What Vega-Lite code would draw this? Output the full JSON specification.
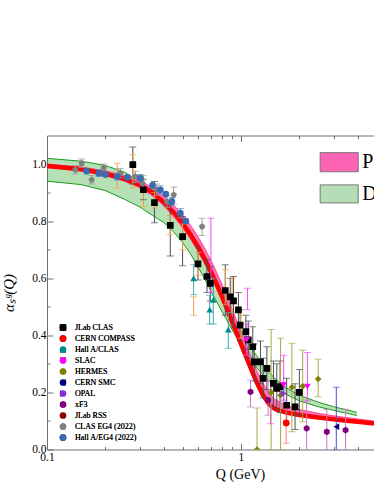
{
  "$schema": "https://vega.github.io/schema/vega-lite/v6.json",
  "autosize": {"type": "none"},
  "padding": {"left": 47, "top": 135.5, "right": 0, "bottom": 34.5},
  "width": 327,
  "height": 314,
  "background": "white",
  "config": {
    "view": {"stroke": null},
    "font": "Liberation Serif",
    "axis": {"labelFont": "Liberation Serif", "titleFont": "Liberation Serif", "labelColor": "black", "titleColor": "black", "domainColor": "#6e6e6e", "tickColor": "#6e6e6e", "grid": false, "labelFontSize": 11.5, "titleFontWeight": "normal", "domain": true, "domainWidth": 1}
  },
  "datasets": {
    "green": [
      {"q": 0.1, "lo": 0.94, "hi": 1.02}, {"q": 0.15, "lo": 0.928, "hi": 1.01}, {"q": 0.2, "lo": 0.907, "hi": 0.995},
      {"q": 0.25, "lo": 0.877, "hi": 0.972}, {"q": 0.3, "lo": 0.85, "hi": 0.94}, {"q": 0.35, "lo": 0.82, "hi": 0.905},
      {"q": 0.4, "lo": 0.795, "hi": 0.868}, {"q": 0.45, "lo": 0.762, "hi": 0.83}, {"q": 0.5, "lo": 0.725, "hi": 0.79},
      {"q": 0.55, "lo": 0.685, "hi": 0.75}, {"q": 0.6, "lo": 0.64, "hi": 0.705}, {"q": 0.65, "lo": 0.597, "hi": 0.662},
      {"q": 0.7, "lo": 0.555, "hi": 0.62}, {"q": 0.75, "lo": 0.517, "hi": 0.58}, {"q": 0.8, "lo": 0.482, "hi": 0.543},
      {"q": 0.85, "lo": 0.45, "hi": 0.508}, {"q": 0.9, "lo": 0.42, "hi": 0.476}, {"q": 1.0, "lo": 0.367, "hi": 0.418},
      {"q": 1.1, "lo": 0.324, "hi": 0.37}, {"q": 1.2, "lo": 0.289, "hi": 0.33}, {"q": 1.3, "lo": 0.26, "hi": 0.296},
      {"q": 1.4, "lo": 0.238, "hi": 0.27}, {"q": 1.5, "lo": 0.22, "hi": 0.248}, {"q": 1.7, "lo": 0.194, "hi": 0.217},
      {"q": 2.0, "lo": 0.17, "hi": 0.19}, {"q": 2.5, "lo": 0.15, "hi": 0.166}, {"q": 3.0, "lo": 0.137, "hi": 0.15},
      {"q": 3.5, "lo": 0.127, "hi": 0.139}, {"q": 3.96, "lo": 0.119, "hi": 0.13}
    ],
    "red": [
      {"q": 0.1, "r": 0.993, "lo": 0.986, "hi": 1.0}, {"q": 0.15, "r": 0.982, "lo": 0.974, "hi": 0.99},
      {"q": 0.2, "r": 0.966, "lo": 0.957, "hi": 0.976}, {"q": 0.25, "r": 0.948, "lo": 0.938, "hi": 0.96},
      {"q": 0.3, "r": 0.927, "lo": 0.915, "hi": 0.942}, {"q": 0.35, "r": 0.9, "lo": 0.886, "hi": 0.918},
      {"q": 0.4, "r": 0.866, "lo": 0.85, "hi": 0.888}, {"q": 0.45, "r": 0.83, "lo": 0.812, "hi": 0.856},
      {"q": 0.5, "r": 0.792, "lo": 0.773, "hi": 0.822}, {"q": 0.55, "r": 0.752, "lo": 0.732, "hi": 0.785},
      {"q": 0.6, "r": 0.71, "lo": 0.69, "hi": 0.746}, {"q": 0.65, "r": 0.667, "lo": 0.647, "hi": 0.705},
      {"q": 0.7, "r": 0.623, "lo": 0.603, "hi": 0.663}, {"q": 0.75, "r": 0.578, "lo": 0.558, "hi": 0.62},
      {"q": 0.8, "r": 0.534, "lo": 0.514, "hi": 0.577}, {"q": 0.85, "r": 0.49, "lo": 0.47, "hi": 0.534},
      {"q": 0.9, "r": 0.448, "lo": 0.429, "hi": 0.492}, {"q": 0.95, "r": 0.408, "lo": 0.39, "hi": 0.452},
      {"q": 1.0, "r": 0.37, "lo": 0.352, "hi": 0.413}, {"q": 1.1, "r": 0.3, "lo": 0.284, "hi": 0.342},
      {"q": 1.2, "r": 0.238, "lo": 0.224, "hi": 0.28}, {"q": 1.3, "r": 0.19, "lo": 0.178, "hi": 0.232},
      {"q": 1.4, "r": 0.158, "lo": 0.149, "hi": 0.196}, {"q": 1.5, "r": 0.142, "lo": 0.134, "hi": 0.175},
      {"q": 1.7, "r": 0.13, "lo": 0.123, "hi": 0.155}, {"q": 2.0, "r": 0.121, "lo": 0.115, "hi": 0.14},
      {"q": 2.5, "r": 0.112, "lo": 0.107, "hi": 0.127}, {"q": 3.0, "r": 0.106, "lo": 0.101, "hi": 0.118},
      {"q": 3.5, "r": 0.101, "lo": 0.097, "hi": 0.112}, {"q": 4.0, "r": 0.097, "lo": 0.093, "hi": 0.107},
      {"q": 4.85, "r": 0.091, "lo": 0.088, "hi": 0.1}
    ],
    "err": [
      {"g": "k", "q": 0.277, "lo": 0.93, "hi": 1.06}, {"g": "k", "q": 0.314, "lo": 0.875, "hi": 0.945},
      {"g": "k", "q": 0.358, "lo": 0.794, "hi": 0.939}, {"g": "k", "q": 0.432, "lo": 0.678, "hi": 0.857},
      {"g": "k", "q": 0.5, "lo": 0.644, "hi": 0.816}, {"g": "k", "q": 0.6, "lo": 0.594, "hi": 0.711},
      {"g": "k", "q": 0.668, "lo": 0.55, "hi": 0.665}, {"g": "k", "q": 0.695, "lo": 0.52, "hi": 0.64},
      {"g": "k", "q": 0.83, "lo": 0.47, "hi": 0.647}, {"g": "k", "q": 0.88, "lo": 0.48, "hi": 0.6},
      {"g": "k", "q": 0.915, "lo": 0.43, "hi": 0.606}, {"g": "k", "q": 0.97, "lo": 0.43, "hi": 0.55},
      {"g": "k", "q": 0.99, "lo": 0.38, "hi": 0.49}, {"g": "k", "q": 1.06, "lo": 0.35, "hi": 0.47},
      {"g": "k", "q": 1.09, "lo": 0.32, "hi": 0.45}, {"g": "k", "q": 1.15, "lo": 0.29, "hi": 0.43},
      {"g": "k", "q": 1.17, "lo": 0.24, "hi": 0.37}, {"g": "k", "q": 1.26, "lo": 0.23, "hi": 0.38},
      {"g": "k", "q": 1.3, "lo": 0.18, "hi": 0.32}, {"g": "k", "q": 1.36, "lo": 0.21, "hi": 0.36},
      {"g": "k", "q": 1.47, "lo": 0.15, "hi": 0.31}, {"g": "k", "q": 1.53, "lo": 0.14, "hi": 0.3},
      {"g": "k", "q": 1.59, "lo": 0.13, "hi": 0.31}, {"g": "k", "q": 1.72, "lo": 0.09, "hi": 0.25},
      {"g": "k", "q": 1.9, "lo": 0.07, "hi": 0.23}, {"g": "k", "q": 2.0, "lo": 0.12, "hi": 0.28},
      {"g": "o", "q": 0.23, "lo": 0.916, "hi": 1.003}, {"g": "o", "q": 0.277, "lo": 0.916, "hi": 1.033},
      {"g": "o", "q": 0.314, "lo": 0.851, "hi": 0.96}, {"g": "o", "q": 0.358, "lo": 0.846, "hi": 0.9},
      {"g": "o", "q": 0.432, "lo": 0.752, "hi": 0.82}, {"g": "o", "q": 0.5, "lo": 0.7, "hi": 0.79},
      {"g": "o", "q": 0.57, "lo": 0.47, "hi": 0.535}, {"g": "o", "q": 0.6, "lo": 0.61, "hi": 0.69},
      {"g": "o", "q": 0.83, "lo": 0.507, "hi": 0.63}, {"g": "o", "q": 0.9, "lo": 0.48, "hi": 0.6},
      {"g": "o", "q": 1.0, "lo": 0.39, "hi": 0.47},
      {"g": "gr", "q": 0.14, "lo": 0.965, "hi": 0.995}, {"g": "gr", "q": 0.151, "lo": 0.988, "hi": 1.018},
      {"g": "gr", "q": 0.17, "lo": 0.93, "hi": 0.96}, {"g": "gr", "q": 0.196, "lo": 0.97, "hi": 1.0},
      {"g": "gr", "q": 0.239, "lo": 0.952, "hi": 0.984}, {"g": "gr", "q": 0.285, "lo": 0.935, "hi": 0.975},
      {"g": "gr", "q": 0.31, "lo": 0.915, "hi": 0.95}, {"g": "gr", "q": 0.368, "lo": 0.89, "hi": 0.93},
      {"g": "gr", "q": 0.415, "lo": 0.848, "hi": 0.89}, {"g": "gr", "q": 0.45, "lo": 0.86, "hi": 0.92},
      {"g": "gr", "q": 0.63, "lo": 0.75, "hi": 0.81},
      {"g": "b", "q": 0.185, "lo": 0.956, "hi": 0.98}, {"g": "b", "q": 0.23, "lo": 0.944, "hi": 0.968},
      {"g": "b", "q": 0.303, "lo": 0.939, "hi": 0.963}, {"g": "b", "q": 0.384, "lo": 0.896, "hi": 0.924},
      {"g": "b", "q": 0.44, "lo": 0.855, "hi": 0.883}, {"g": "b", "q": 0.487, "lo": 0.812, "hi": 0.844},
      {"g": "t", "q": 0.57, "lo": 0.542, "hi": 0.647}, {"g": "t", "q": 0.72, "lo": 0.44, "hi": 0.6},
      {"g": "t", "q": 0.69, "lo": 0.44, "hi": 0.54}, {"g": "t", "q": 0.86, "lo": 0.355, "hi": 0.48},
      {"g": "m", "q": 0.7, "lo": 0.55, "hi": 0.81}, {"g": "m", "q": 1.08, "lo": 0.49, "hi": 0.565},
      {"g": "m", "q": 1.07, "lo": 0.33, "hi": 0.44}, {"g": "m", "q": 1.42, "lo": 0.09, "hi": 0.24},
      {"g": "m", "q": 1.66, "lo": 0.173, "hi": 0.33}, {"g": "m", "q": 2.2, "lo": 0.17, "hi": 0.34},
      {"g": "ol", "q": 1.21, "lo": 0.0, "hi": 0.145}, {"g": "ol", "q": 1.43, "lo": 0.0, "hi": 0.42},
      {"g": "ol", "q": 1.6, "lo": 0.0, "hi": 0.39}, {"g": "ol", "q": 1.83, "lo": 0.062, "hi": 0.372},
      {"g": "ol", "q": 2.08, "lo": 0.097, "hi": 0.348}, {"g": "ol", "q": 2.5, "lo": 0.185, "hi": 0.316},
      {"g": "r", "q": 1.71, "lo": 0.022, "hi": 0.162},
      {"g": "p", "q": 1.12, "lo": 0.149, "hi": 0.243}, {"g": "p", "q": 1.38, "lo": 0.12, "hi": 0.24},
      {"g": "p", "q": 2.18, "lo": 0.0, "hi": 0.173}, {"g": "p", "q": 2.77, "lo": 0.0, "hi": 0.14},
      {"g": "p", "q": 3.46, "lo": 0.0, "hi": 0.141},
      {"g": "n", "q": 3.1, "lo": 0.0, "hi": 0.218},
      {"g": "v", "q": 1.66, "lo": 0.17, "hi": 0.22}
    ],
    "pts": [
      {"s": "JLab CLAS", "q": 0.277, "a": 0.998}, {"s": "JLab CLAS", "q": 0.314, "a": 0.91},
      {"s": "JLab CLAS", "q": 0.358, "a": 0.865}, {"s": "JLab CLAS", "q": 0.432, "a": 0.785},
      {"s": "JLab CLAS", "q": 0.5, "a": 0.746}, {"s": "JLab CLAS", "q": 0.6, "a": 0.65},
      {"s": "JLab CLAS", "q": 0.668, "a": 0.606}, {"s": "JLab CLAS", "q": 0.695, "a": 0.582},
      {"s": "JLab CLAS", "q": 0.83, "a": 0.557}, {"s": "JLab CLAS", "q": 0.88, "a": 0.535},
      {"s": "JLab CLAS", "q": 0.915, "a": 0.521}, {"s": "JLab CLAS", "q": 0.97, "a": 0.489},
      {"s": "JLab CLAS", "q": 0.99, "a": 0.436}, {"s": "JLab CLAS", "q": 1.06, "a": 0.413},
      {"s": "JLab CLAS", "q": 1.09, "a": 0.384}, {"s": "JLab CLAS", "q": 1.15, "a": 0.36},
      {"s": "JLab CLAS", "q": 1.17, "a": 0.307}, {"s": "JLab CLAS", "q": 1.26, "a": 0.307},
      {"s": "JLab CLAS", "q": 1.3, "a": 0.249}, {"s": "JLab CLAS", "q": 1.36, "a": 0.284},
      {"s": "JLab CLAS", "q": 1.47, "a": 0.232}, {"s": "JLab CLAS", "q": 1.53, "a": 0.214},
      {"s": "JLab CLAS", "q": 1.59, "a": 0.22}, {"s": "JLab CLAS", "q": 1.72, "a": 0.155},
      {"s": "JLab CLAS", "q": 1.9, "a": 0.149}, {"s": "JLab CLAS", "q": 2.0, "a": 0.2},
      {"s": "CLAS EG4 (2022)", "q": 0.14, "a": 0.98}, {"s": "CLAS EG4 (2022)", "q": 0.151, "a": 1.003},
      {"s": "CLAS EG4 (2022)", "q": 0.17, "a": 0.945}, {"s": "CLAS EG4 (2022)", "q": 0.196, "a": 0.986},
      {"s": "CLAS EG4 (2022)", "q": 0.239, "a": 0.968}, {"s": "CLAS EG4 (2022)", "q": 0.285, "a": 0.956},
      {"s": "CLAS EG4 (2022)", "q": 0.31, "a": 0.933}, {"s": "CLAS EG4 (2022)", "q": 0.368, "a": 0.91},
      {"s": "CLAS EG4 (2022)", "q": 0.415, "a": 0.869}, {"s": "CLAS EG4 (2022)", "q": 0.45, "a": 0.892},
      {"s": "CLAS EG4 (2022)", "q": 0.63, "a": 0.781},
      {"s": "Hall A/EG4 (2022)", "q": 0.16, "a": 0.975}, {"s": "Hall A/EG4 (2022)", "q": 0.185, "a": 0.968},
      {"s": "Hall A/EG4 (2022)", "q": 0.2, "a": 0.963}, {"s": "Hall A/EG4 (2022)", "q": 0.23, "a": 0.956},
      {"s": "Hall A/EG4 (2022)", "q": 0.26, "a": 0.953}, {"s": "Hall A/EG4 (2022)", "q": 0.303, "a": 0.951},
      {"s": "Hall A/EG4 (2022)", "q": 0.35, "a": 0.925}, {"s": "Hall A/EG4 (2022)", "q": 0.384, "a": 0.91},
      {"s": "Hall A/EG4 (2022)", "q": 0.41, "a": 0.895}, {"s": "Hall A/EG4 (2022)", "q": 0.44, "a": 0.869},
      {"s": "Hall A/EG4 (2022)", "q": 0.487, "a": 0.828}, {"s": "Hall A/EG4 (2022)", "q": 0.52, "a": 0.8},
      {"s": "Hall A/CLAS", "q": 0.57, "a": 0.6}, {"s": "Hall A/CLAS", "q": 0.72, "a": 0.524},
      {"s": "Hall A/CLAS", "q": 0.69, "a": 0.49}, {"s": "Hall A/CLAS", "q": 0.86, "a": 0.42},
      {"s": "SLAC", "q": 1.07, "a": 0.384}, {"s": "SLAC", "q": 1.66, "a": 0.226}, {"s": "SLAC", "q": 2.2, "a": 0.22},
      {"s": "HERMES", "q": 1.21, "a": 0.0}, {"s": "HERMES", "q": 1.43, "a": 0.2}, {"s": "HERMES", "q": 1.6, "a": 0.19},
      {"s": "HERMES", "q": 1.83, "a": 0.218}, {"s": "HERMES", "q": 2.08, "a": 0.222}, {"s": "HERMES", "q": 2.5, "a": 0.247},
      {"s": "CERN COMPASS", "q": 1.71, "a": 0.093},
      {"s": "xF3", "q": 1.12, "a": 0.202}, {"s": "xF3", "q": 1.38, "a": 0.173}, {"s": "xF3", "q": 2.18, "a": 0.074},
      {"s": "xF3", "q": 2.77, "a": 0.062}, {"s": "xF3", "q": 3.46, "a": 0.068},
      {"s": "CERN SMC", "q": 3.1, "a": 0.08},
      {"s": "OPAL", "q": 1.66, "a": 0.196}
    ]
  },
  "resolve": {"axis": {"x": "independent", "y": "independent"}, "scale": {"color": "independent"}},
  "layer": [
    {
      "data": {"name": "green"},
      "mark": {"type": "area", "color": "#22a022", "opacity": 0.33, "clip": true},
      "encoding": {
        "x": {"field": "q", "type": "quantitative", "scale": {"type": "log", "domain": [0.1, 4.85], "nice": false},
          "axis": {"orient": "bottom", "values": [0.1, 0.2, 0.3, 0.4, 0.5, 0.6, 0.7, 0.8, 0.9, 1, 2, 3, 4],
            "labelExpr": "datum.value == 0.1 ? '0.1' : (datum.value == 1 ? '1' : '')",
            "tickSize": {"condition": {"test": "datum.value == 0.1 || datum.value == 1", "value": -6}, "value": -3},
            "labelPadding": 8, "labelFlush": false, "labelOverlap": false, "domain": true,
            "title": "Q (GeV)", "titleFontSize": 14, "titleX": 193, "titleY": 28.5, "titleBaseline": "alphabetic", "titleAlign": "center", "titleAnchor": null}},
        "y": {"field": "lo", "type": "quantitative", "scale": {"domain": [0, 1.1], "nice": false, "zero": false},
          "axis": {"orient": "left", "values": [0, 0.1, 0.2, 0.3, 0.4, 0.5, 0.6, 0.7, 0.8, 0.9, 1.0],
            "labelExpr": "round(datum.value * 10) % 2 == 0 ? format(datum.value, '.1f') : ''",
            "tickSize": {"condition": {"test": "round(datum.value * 10) % 2 == 0", "value": -6}, "value": -3},
            "labelPadding": 7, "labelOverlap": false, "domain": true,
            "title": "αₛᵍ(Q)", "titleFontSize": 15, "titleFontStyle": "italic", "titlePadding": 15}},
        "y2": {"field": "hi"}
      }
    },
    {
      "data": {"name": "green"},
      "mark": {"type": "line", "color": "#1a9a1a", "strokeWidth": 1, "clip": true},
      "encoding": {
        "x": {"field": "q", "type": "quantitative", "axis": {"orient": "top", "values": [0.1, 0.2, 0.3, 0.4, 0.5, 0.6, 0.7, 0.8, 0.9, 1, 2, 3, 4], "labels": false, "title": null, "domain": true,
          "tickSize": {"condition": {"test": "datum.value == 0.1 || datum.value == 1", "value": -6}, "value": -3}}},
        "y": {"field": "lo", "type": "quantitative", "axis": null}
      }
    },
    {
      "data": {"name": "green"},
      "mark": {"type": "line", "color": "#1a9a1a", "strokeWidth": 1, "clip": true},
      "encoding": {
        "x": {"field": "q", "type": "quantitative", "axis": null},
        "y": {"field": "hi", "type": "quantitative", "axis": null}
      }
    },
    {
      "data": {"name": "red"},
      "mark": {"type": "area", "color": "#ff63b4", "opacity": 0.9, "clip": true},
      "encoding": {
        "x": {"field": "q", "type": "quantitative", "axis": null},
        "y": {"field": "lo", "type": "quantitative", "axis": null},
        "y2": {"field": "hi"}
      }
    },
    {
      "data": {"name": "red"},
      "mark": {"type": "line", "color": "#ff3070", "strokeWidth": 0.8, "clip": true},
      "encoding": {
        "x": {"field": "q", "type": "quantitative", "axis": null},
        "y": {"field": "hi", "type": "quantitative", "axis": null}
      }
    },
    {
      "data": {"name": "red"},
      "mark": {"type": "line", "color": "#ff0000", "strokeWidth": 4.5, "clip": true},
      "encoding": {
        "x": {"field": "q", "type": "quantitative", "axis": null},
        "y": {"field": "r", "type": "quantitative", "axis": null}
      }
    },
    {
      "data": {"name": "err"},
      "mark": {"type": "rule", "strokeWidth": 1, "clip": true},
      "encoding": {
        "x": {"field": "q", "type": "quantitative", "axis": null},
        "y": {"field": "lo", "type": "quantitative", "axis": null},
        "y2": {"field": "hi"},
        "color": {"field": "g", "type": "nominal", "legend": null,
          "scale": {"domain": ["k", "o", "gr", "b", "t", "m", "ol", "r", "p", "n", "v"],
            "range": ["#4d4d4d", "#f0a04b", "#9a9a9a", "#5b8fd0", "#3aa8a8", "#ff44ff", "#a8a845", "#ff7777", "#c47cc4", "#4a4ad0", "#9a60e0"]}}
      }
    },
    {
      "data": {"name": "err"},
      "mark": {"type": "tick", "orient": "horizontal", "size": 7, "thickness": 1, "clip": true},
      "encoding": {
        "x": {"field": "q", "type": "quantitative", "axis": null},
        "y": {"field": "lo", "type": "quantitative", "axis": null},
        "color": {"field": "g", "type": "nominal", "legend": null,
          "scale": {"domain": ["k", "o", "gr", "b", "t", "m", "ol", "r", "p", "n", "v"],
            "range": ["#4d4d4d", "#f0a04b", "#9a9a9a", "#5b8fd0", "#3aa8a8", "#ff44ff", "#a8a845", "#ff7777", "#c47cc4", "#4a4ad0", "#9a60e0"]}}
      }
    },
    {
      "data": {"name": "err"},
      "mark": {"type": "tick", "orient": "horizontal", "size": 7, "thickness": 1, "clip": true},
      "encoding": {
        "x": {"field": "q", "type": "quantitative", "axis": null},
        "y": {"field": "hi", "type": "quantitative", "axis": null},
        "color": {"field": "g", "type": "nominal", "legend": null,
          "scale": {"domain": ["k", "o", "gr", "b", "t", "m", "ol", "r", "p", "n", "v"],
            "range": ["#4d4d4d", "#f0a04b", "#9a9a9a", "#5b8fd0", "#3aa8a8", "#ff44ff", "#a8a845", "#ff7777", "#c47cc4", "#4a4ad0", "#9a60e0"]}}
      }
    },
    {
      "data": {"name": "pts"},
      "mark": {"type": "point", "filled": true, "size": 45, "opacity": 1, "clip": true},
      "encoding": {
        "x": {"field": "q", "type": "quantitative", "axis": null},
        "y": {"field": "a", "type": "quantitative", "axis": null},
        "color": {"field": "s", "type": "nominal",
          "scale": {"domain": ["JLab CLAS", "CERN COMPASS", "Hall A/CLAS", "SLAC", "HERMES", "CERN SMC", "OPAL", "xF3", "JLab RSS", "CLAS EG4 (2022)", "Hall A/EG4 (2022)"],
            "range": ["#000000", "#ff0000", "#008b8b", "#ff00ff", "#808000", "#000080", "#8a2be2", "#800080", "#8b0000", "#808080", "#3a6ab0"]},
          "legend": {"title": null, "orient": "none", "legendX": 12, "legendY": 188, "labelFont": "Liberation Serif", "labelFontSize": 8, "labelFontWeight": "normal", "labelColor": "black",
            "symbolSize": 45, "rowPadding": 3, "labelOffset": 8, "symbolStrokeWidth": 0}},
        "shape": {"field": "s", "type": "nominal",
          "scale": {"domain": ["JLab CLAS", "CERN COMPASS", "Hall A/CLAS", "SLAC", "HERMES", "CERN SMC", "OPAL", "xF3", "JLab RSS", "CLAS EG4 (2022)", "Hall A/EG4 (2022)"],
            "range": ["square", "circle", "triangle-up", "triangle-down", "diamond", "triangle-left", "triangle-right",
              "M0.866,-0.5L0.866,0.5L0,1L-0.866,0.5L-0.866,-0.5L0,-1Z",
              "M0,-1L0.225,-0.309L0.951,-0.309L0.363,0.118L0.588,0.809L0,0.382L-0.588,0.809L-0.363,0.118L-0.951,-0.309L-0.225,-0.309Z",
              "M0,-1L0.951,-0.309L0.588,0.809L-0.588,0.809L-0.951,-0.309Z",
              "circle"]},
          "legend": {"title": null, "orient": "none", "legendX": 12, "legendY": 188, "labelFont": "Liberation Serif", "labelFontSize": 8, "labelFontWeight": "normal", "labelColor": "black",
            "symbolSize": 45, "rowPadding": 3, "labelOffset": 8, "symbolStrokeWidth": 0}}
      }
    },
    {
      "data": {"values": [{"q1": 2.56, "q2": 4.02, "a1": 0.973, "a2": 1.04}]},
      "mark": {"type": "rect", "fill": "#ff63b4", "stroke": "#777777", "strokeWidth": 1},
      "encoding": {
        "x": {"field": "q1", "type": "quantitative", "axis": null}, "x2": {"field": "q2"},
        "y": {"field": "a1", "type": "quantitative", "axis": null}, "y2": {"field": "a2"}
      }
    },
    {
      "data": {"values": [{"q1": 2.56, "q2": 4.02, "a1": 0.864, "a2": 0.927}]},
      "mark": {"type": "rect", "fill": "#b6deb6", "stroke": "#777777", "strokeWidth": 1},
      "encoding": {
        "x": {"field": "q1", "type": "quantitative", "axis": null}, "x2": {"field": "q2"},
        "y": {"field": "a1", "type": "quantitative", "axis": null}, "y2": {"field": "a2"}
      }
    },
    {
      "data": {"values": [{"q": 4.22, "a": 1.006, "t": "PMA"}, {"q": 4.22, "a": 0.896, "t": "DSE"}]},
      "mark": {"type": "text", "align": "left", "baseline": "middle", "font": "Liberation Serif", "fontSize": 20, "color": "black", "clip": true},
      "encoding": {
        "x": {"field": "q", "type": "quantitative", "axis": null},
        "y": {"field": "a", "type": "quantitative", "axis": null},
        "text": {"field": "t"}
      }
    }
  ]
}
